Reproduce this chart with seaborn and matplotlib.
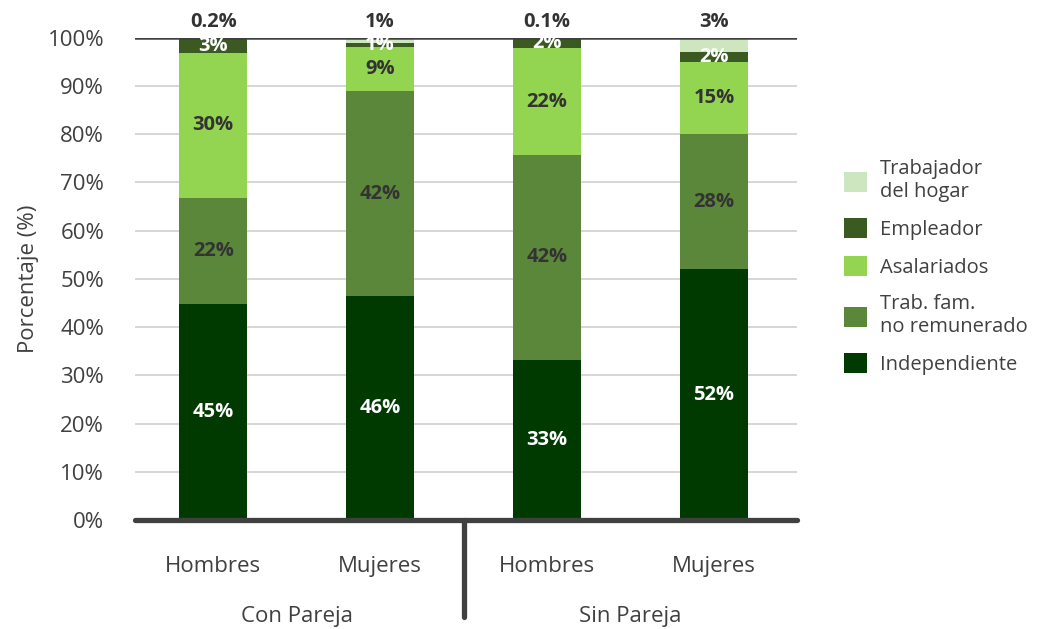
import numpy as np
import pandas as pd
import matplotlib
matplotlib.use("Agg")
import matplotlib.pyplot as plt
import seaborn as sns
from matplotlib.patches import Patch
from matplotlib.transforms import blended_transform_factory

# Categories
grupos = ["Con Pareja", "Con Pareja", "Sin Pareja", "Sin Pareja"]
sexos = ["Hombres", "Mujeres", "Hombres", "Mujeres"]

# Shares (%) by type of occupation
independiente = [45, 46, 33, 52]
trab_fam = [22, 42, 42, 28]
asalariados = [30, 9, 22, 15]
empleador = [3, 1, 2, 2]
hogar = [0.2, 1, 0.1, 3]

series_names = ["Independiente", "Trab. fam.\nno remunerado", "Asalariados",
                "Empleador", "Trabajador\ndel hogar"]
colors = ["#013A01", "#5B873A", "#93D451", "#3A5A22", "#CDE6C0"]
label_colors = ["white", "#333333", "#333333", "white", "#333333"]

y_ticks = list(range(0, 101, 10))

sns.set_theme(style="white")
plt.rcParams["font.family"] = ["Open Sans", "DejaVu Sans"]

vals = np.array([independiente, trab_fam, asalariados, empleador, hogar], dtype=float)
totals = vals.sum(axis=0)
shares = vals / totals * 100  # 100% stacked columns
cum = np.cumsum(shares, axis=0)

fig = plt.figure(figsize=(10.45, 6.29), dpi=100)
ax = fig.add_axes([0.129, 0.173, 0.634, 0.767])

pos = [f"{g}|{s}" for g, s in zip(grupos, sexos)]
# Draw cumulative totals from the top layer down so each layer covers the next
for k in range(len(series_names) - 1, -1, -1):
    df = pd.DataFrame({"pos": pos, "valor": cum[k]})
    sns.barplot(data=df, x="pos", y="valor", color=colors[k], width=0.405,
                saturation=1, ax=ax, zorder=3, linewidth=0)

ax.set_ylim(0, 100)
ax.set_xlim(-0.47, 3.5)
ax.set_yticks(y_ticks)
ax.set_yticklabels([f"{t}%" for t in y_ticks], fontsize=16, color="#404040")
ax.yaxis.grid(True, color="#D0D0D0", linewidth=1.2, zorder=0)
ax.set_axisbelow(True)
for side in ["left", "right", "top"]:
    ax.spines[side].set_visible(False)
ax.spines["bottom"].set_color("#404040")
ax.spines["bottom"].set_linewidth(3.8)
ax.spines["bottom"].set_capstyle("round")
ax.spines["bottom"].set_zorder(6)
ax.axhline(100, color="#404040", linewidth=1.8, zorder=5)
ax.tick_params(axis="y", length=0, pad=22)

ax.set_xticks(range(4))
ax.set_xticklabels(sexos, fontsize=16, color="#404040")
ax.tick_params(axis="x", length=0, pad=26)
ax.set_xlabel("")
ax.set_ylabel("Porcentaje (%)", fontsize=16, color="#404040", labelpad=6)

trans = blended_transform_factory(ax.transData, ax.transAxes)
ax.text(0.5, -0.20, "Con Pareja", transform=trans, ha="center", va="center",
        fontsize=16, color="#404040")
ax.text(2.5, -0.20, "Sin Pareja", transform=trans, ha="center", va="center",
        fontsize=16, color="#404040")
ax.plot([1.5, 1.5], [0, -0.2], transform=trans, color="#404040", linewidth=3.8,
        solid_capstyle="round", clip_on=False, zorder=6)

def fmt(v):
    return f"{v:g}%"

# Value labels
for i in range(4):
    for k in range(4):
        lo = cum[k - 1][i] if k > 0 else 0
        ax.text(i, (lo + cum[k][i]) / 2, fmt(vals[k][i]), ha="center", va="center",
                fontsize=14.5, fontweight="bold", color=label_colors[k], zorder=7)
    ax.text(i, 101.2, fmt(vals[4][i]), ha="center", va="bottom", fontsize=14.5,
            fontweight="bold", color="#333333", zorder=7)

handles = [Patch(facecolor=colors[k], edgecolor="none") for k in range(4, -1, -1)]
labels = [series_names[k] for k in range(4, -1, -1)]
fig.legend(handles, labels, loc="center left", bbox_to_anchor=(0.79, 0.575),
           frameon=False, fontsize=14.5, labelcolor="#404040", handlelength=1.15,
           handleheight=1.15, handletextpad=0.65, labelspacing=0.8)

fig.savefig("out.png", dpi=100)
